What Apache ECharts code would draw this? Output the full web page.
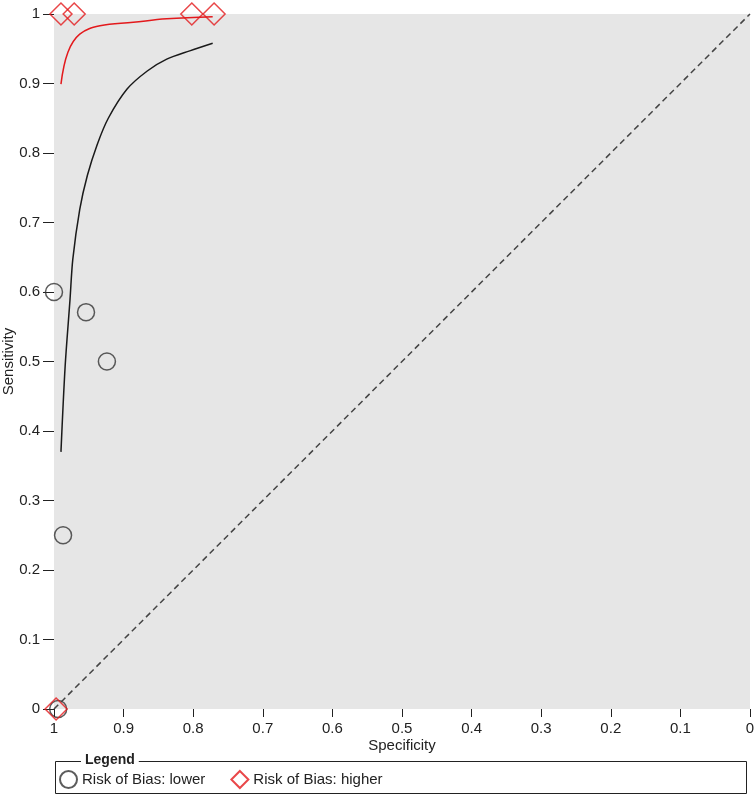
<!DOCTYPE html>
<html>
<head>
<meta charset="utf-8">
<script src="https://cdn.jsdelivr.net/npm/echarts@6/dist/echarts.min.js"></script>
<style>html,body{margin:0;padding:0;background:#fff}#c{width:755px;height:799px}</style>
</head>
<body>
<div id="c"></div>
<script>
// Studies: [specificity, sensitivity]
const lowerStudies = [[1.0, 0.60], [0.954, 0.571], [0.924, 0.50], [0.987, 0.25], [0.994, 0.0]];
const higherStudies = [[0.990, 1.0], [0.971, 1.0], [0.802, 1.0], [0.770, 1.0], [0.997, 0.0]];
// SROC curves
const lowerCurveSpec = [0.990, 0.984, 0.977, 0.973, 0.963, 0.952, 0.938, 0.922, 0.895, 0.866, 0.838, 0.805, 0.772];
const lowerCurveSens = [0.370, 0.493, 0.589, 0.647, 0.719, 0.768, 0.812, 0.850, 0.892, 0.918, 0.935, 0.947, 0.958];
const higherCurveSpec = [0.990, 0.980, 0.963, 0.934, 0.886, 0.838, 0.772];
const higherCurveSens = [0.899, 0.945, 0.971, 0.983, 0.988, 0.993, 0.996];
const diagonal = [[1, 0], [0, 1]];
const tickValues = [0, 0.1, 0.2, 0.3, 0.4, 0.5, 0.6, 0.7, 0.8, 0.9, 1];
const legendNames = ['Risk of Bias: lower', 'Risk of Bias: higher'];

const zip = (a, b) => a.map((v, i) => [v, b[i]]);
const FONT = 'Liberation Sans';
const fmt = v => { const r = Math.round(v * 10) / 10; return String(r); };

const chart = echarts.init(document.getElementById('c'));
chart.setOption({
  animation: false,
  textStyle: { fontFamily: FONT },
  grid: { left: 54, right: 5, top: 14, bottom: 90, show: true, backgroundColor: '#e6e6e6', borderWidth: 0,
          containLabel: false, outerBoundsMode: 'none' },
  xAxis: {
    type: 'value', inverse: true, min: 0, max: 1, interval: 0.1,
    name: 'Specificity', nameLocation: 'middle', nameGap: 29, nameMoveOverlap: false,
    nameTextStyle: { fontFamily: FONT, fontSize: 15, color: '#222' },
    axisLine: { show: false, onZero: false },
    axisTick: { show: true, length: 8, lineStyle: { color: '#222', width: 1 } },
    axisLabel: { margin: 12, fontSize: 15, color: '#222', fontFamily: FONT, formatter: fmt },
    splitLine: { show: false }
  },
  yAxis: {
    type: 'value', min: 0, max: 1, interval: 0.1, position: 'left',
    name: 'Sensitivity', nameLocation: 'middle', nameGap: 38, nameRotate: 90, nameMoveOverlap: false,
    nameTextStyle: { fontFamily: FONT, fontSize: 15, color: '#222' },
    axisLine: { show: false, onZero: false },
    axisTick: { show: true, length: 11, lineStyle: { color: '#222', width: 1 } },
    axisLabel: { margin: 14, fontSize: 15, color: '#222', fontFamily: FONT, formatter: fmt },
    splitLine: { show: false }
  },
  legend: {
    data: legendNames, left: 59, top: 770, itemGap: 25, itemWidth: 17, itemHeight: 17,
    textStyle: { fontFamily: FONT, fontSize: 15, color: '#222' }, padding: 0
  },
  graphic: [
    { type: 'rect', shape: { x: 55.5, y: 761.5, width: 691, height: 32 }, style: { fill: 'none', stroke: '#222', lineWidth: 1 }, silent: true },
    { type: 'text', x: 81, y: 753, style: { text: 'Legend', fontFamily: FONT, fontSize: 14, fontWeight: 'bold', fill: '#222', backgroundColor: '#fff', padding: [0, 4, 0, 4] }, z: 10 }
  ],
  series: [
    { name: 'diag', type: 'line', data: diagonal, showSymbol: false, symbol: 'none', clip: false,
      lineStyle: { color: '#444', width: 1.5, type: [6, 4] }, silent: true },
    { name: 'lowerCurve', type: 'line', data: zip(lowerCurveSpec, lowerCurveSens), smooth: 0.3, symbol: 'none', clip: false,
      lineStyle: { color: '#1a1a1a', width: 1.5 }, silent: true },
    { name: 'higherCurve', type: 'line', data: zip(higherCurveSpec, higherCurveSens), smooth: 0.4, symbol: 'none', clip: false,
      lineStyle: { color: '#e3191c', width: 1.5 }, silent: true },
    { name: legendNames[0], type: 'scatter', data: lowerStudies, symbol: 'circle', symbolSize: 17, clip: false,
      itemStyle: { color: 'rgba(0,0,0,0)', borderColor: '#333', borderWidth: 1.5 } },
    { name: legendNames[1], type: 'scatter', data: higherStudies, symbol: 'diamond', symbolSize: 22, clip: false,
      itemStyle: { color: 'rgba(0,0,0,0)', borderColor: '#e3191c', borderWidth: 1.5 } }
  ]
});
</script>
</body>
</html>
